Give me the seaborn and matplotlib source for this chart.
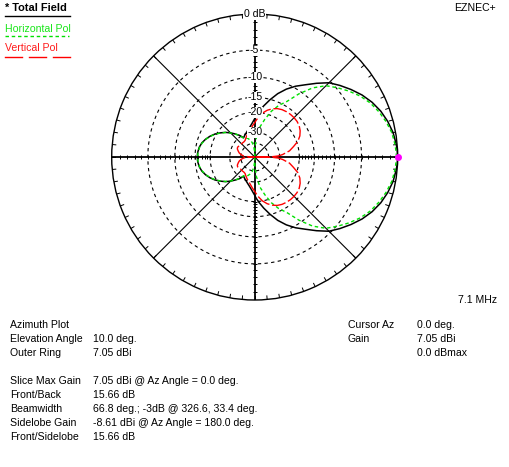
import numpy as np
import matplotlib
matplotlib.use("Agg")
import matplotlib.pyplot as plt
import seaborn as sns

# azimuth (deg) for half the pattern, mirrored about 0-180 later
az_half = [0, 1, 2.5, 5, 10, 15, 20, 25, 30, 35, 40, 45, 50, 55, 60, 65, 70, 75, 80, 85,
           88, 90, 92, 95, 100, 105, 110, 115, 120, 125, 130, 135, 140, 145, 150, 155,
           160, 165, 170, 175, 177, 180]

total_db = [0.0, -0.02, -0.04, -0.1, -0.3, -0.65, -1.1, -1.7, -2.45, -3.35, -4.3, -5.3, -6.8,
            -8.3, -9.6, -11.1, -12.9, -15.1, -17.4, -19.8, -21.4, -22.6, -23.6, -25.0, -26.9,
            -28.4, -29.7, -30.8, -32.0, -29.0, -26.8, -24.6, -22.6, -21.0, -19.5, -18.3,
            -17.3, -16.5, -16.0, -15.75, -15.7, -15.66]

horiz_db = [-0.15, -0.17, -0.2, -0.25, -0.45, -0.85, -1.35, -1.95, -2.75, -3.75, -4.85, -6.0,
            -7.9, -10.6, -13.8, -15.8, -18.5, -22.3, -26.4, -34.0, -45.0, -80.0, -55.0, -45.0,
            -39.0, -36.0, -34.0, -33.0, -32.5, -29.2, -26.9, -24.7, -22.7, -21.1, -19.6,
            -18.4, -17.4, -16.6, -16.1, -15.85, -15.8, -15.76]

vert_db = [-99.0, -36.0, -31.0, -28.0, -24.0, -21.8, -19.5, -18.1, -17.2, -16.6, -16.3, -16.2,
           -16.2, -16.3, -16.5, -16.9, -17.6, -18.6, -20.0, -22.0, -23.5, -24.5, -25.3, -26.5,
           -28.5, -30.0, -31.5, -33.0, -34.5, -35.0, -35.0, -35.0, -35.0, -34.5, -34.0, -34.5,
           -36.0, -37.5, -40.0, -44.0, -47.0, -99.0]

ring_db = [-5, -10, -15, -20, -30, -40]
ring_labels = ["-5", "-10", "-15", "-20", "-30", ""]

info_left = [("Azimuth Plot", ""), ("Elevation Angle", "10.0 deg."), ("Outer Ring", "7.05 dBi"),
             ("", ""), ("Slice Max Gain", "7.05 dBi @ Az Angle = 0.0 deg."),
             ("Front/Back", "15.66 dB"), ("Beamwidth", "66.8 deg.; -3dB @ 326.6, 33.4 deg."),
             ("Sidelobe Gain", "-8.61 dBi @ Az Angle = 180.0 deg."), ("Front/Sidelobe", "15.66 dB")]
info_right = [("Cursor Az", "0.0 deg."), ("Gain", "7.05 dBi"), ("", "0.0 dBmax")]


def arrl(db):
    # ARRL log scale: each 2 dB shrinks the radius by 0.89
    return 0.89 ** (-np.asarray(db, dtype=float) / 2.0)


def full(vals):
    vals = list(vals)
    return np.array(vals + vals[-2::-1])


az = np.array(az_half)
theta = np.deg2rad(np.concatenate([az, 360 - az[-2::-1]]))

plt.rcParams['font.family'] = ['Liberation Sans', 'DejaVu Sans']

fig = plt.figure(figsize=(5.09, 4.67), dpi=100)
fig.patch.set_facecolor('white')

# overlay for text in pixel coords
ov = fig.add_axes([0, 0, 1, 1])
ov.set_xlim(0, 509)
ov.set_ylim(467, 0)
ov.axis('off')

fs = 7.6
ov.text(5, 8, "* Total Field", fontsize=7.9, fontweight='bold', va='center', ha='left')
ov.plot([5, 70], [15.5, 15.5], color='black', lw=1)
ov.text(5, 29, "Horizontal Pol", fontsize=fs, color='#19e619', va='center', ha='left')
ov.plot([5, 69], [35.5, 35.5], color='#00e000', lw=1, linestyle=(0, (2.5, 2)))
ov.text(5, 48, "Vertical Pol", fontsize=fs, color='#ff1a1a', va='center', ha='left')
for x0 in [5, 29, 53]:
    ov.plot([x0, x0 + 17], [56.5, 56.5], color='red', lw=1)
ov.text(496, 8, "EZNEC+", fontsize=fs, va='center', ha='right')
ov.text(497, 300, "7.1 MHz", fontsize=fs, va='center', ha='right')

for i, (lab, val) in enumerate(info_left):
    y = 325 + 14 * i
    ov.text(10, y, lab, fontsize=fs, va='center', ha='left')
    ov.text(93, y, val, fontsize=fs, va='center', ha='left')
for i, (lab, val) in enumerate(info_right):
    y = 325 + 14 * i
    ov.text(348, y, lab, fontsize=fs, va='center', ha='left')
    ov.text(417, y, val, fontsize=fs, va='center', ha='left')

# polar plot
ax = fig.add_axes([0.21945, 0.3576, 0.56189, 0.61242], projection='polar')
ax.set_ylim(0, 1)
ax.set_xticks([])
ax.set_yticks([])
ax.grid(False)
ax.set_facecolor('none')
ax.spines['polar'].set_linewidth(1.0)
ax.spines['polar'].set_color('black')

circ = np.linspace(0, 2 * np.pi, 400)
for d in ring_db:
    ax.plot(circ, np.full_like(circ, arrl(d)), color='black', lw=0.8, linestyle=(0, (3, 3)))

for a in range(0, 360, 45):
    lw = 1.3 if a % 90 == 0 else 0.8
    ax.plot([np.deg2rad(a)] * 2, [0, 1], color='black', lw=lw)

for a in range(0, 360, 5):
    ax.plot([np.deg2rad(a)] * 2, [0.975, 1.0], color='black', lw=0.7)

tick_r = arrl(-np.arange(1, 21))
for a, m in [(0, '|'), (180, '|'), (90, '_'), (270, '_')]:
    ax.plot(np.full_like(tick_r, np.deg2rad(a)), tick_r, linestyle='none', marker=m,
            ms=3, mew=0.7, color='black')

sns.lineplot(x=theta, y=arrl(full(horiz_db)), ax=ax, sort=False, estimator=None,
             color='#00e000', linewidth=1.0, linestyle=(0, (2.5, 2)), zorder=4)
sns.lineplot(x=theta, y=arrl(full(vert_db)), ax=ax, sort=False, estimator=None,
             color='#ff0000', linewidth=1.0, linestyle=(0, (10, 2)), zorder=4)
sns.lineplot(x=theta, y=arrl(full(total_db)), ax=ax, sort=False, estimator=None,
             color='black', linewidth=1.1, zorder=3)

ax.plot([0], [1], marker='o', ms=4, color='#ff00ff', clip_on=False, zorder=6)

ax.text(np.pi / 2, 1.0, "0 dB", fontsize=fs, ha='center', va='center', zorder=7,
        bbox=dict(facecolor='white', edgecolor='none', pad=0.6))
for d, lab in zip(ring_db, ring_labels):
    if lab:
        ax.text(np.pi / 2, arrl(d), lab, fontsize=fs, ha='center', va='center', zorder=7,
                bbox=dict(facecolor='white', edgecolor='none', pad=0.3))

ax.set_xlabel('')
ax.set_ylabel('')
fig.savefig('out.png', dpi=100, facecolor='white')
